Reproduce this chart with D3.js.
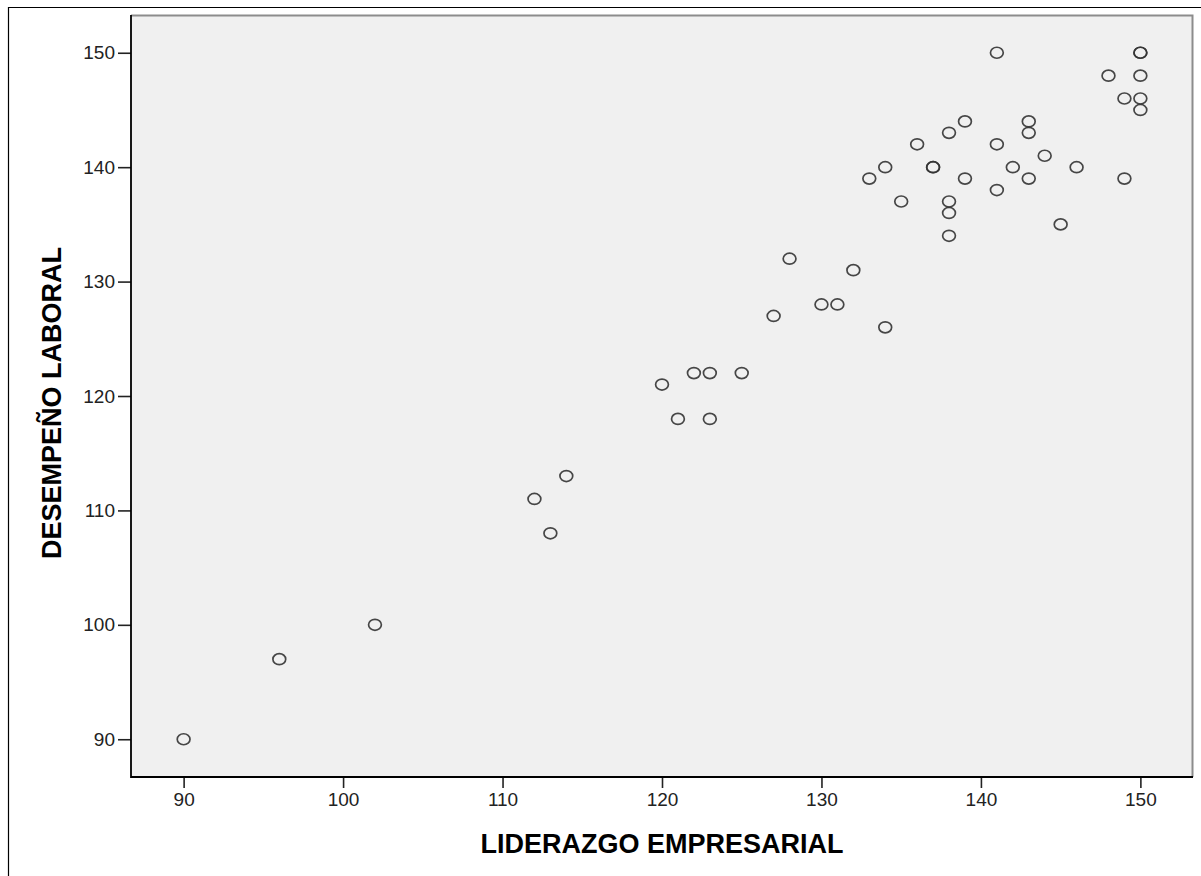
<!DOCTYPE html>
<html>
<head>
<meta charset="utf-8">
<script src="https://cdn.jsdelivr.net/npm/d3@7"></script>
<style>
  body { margin: 0; background: #fff; }
  svg { display: block; }
</style>
</head>
<body>
<div id="chart"></div>
<script>
// LIDERAZGO EMPRESARIAL (x) and DESEMPEÑO LABORAL (y), one entry per case
const liderazgo = [90, 96, 102, 112, 113, 114, 120, 121, 122, 123, 123, 125, 127, 128, 130, 131, 132, 134,
    133, 134, 135, 136, 137, 137, 138, 138, 138, 138, 139, 139, 141, 141, 141, 142, 143, 143, 143, 144,
    145, 146, 148, 149, 149, 150, 150, 150, 150, 150];
const desempeno = [90, 97, 100, 111, 108, 113, 121, 118, 122, 122, 118, 122, 127, 132, 128, 128, 131, 126,
    139, 140, 137, 142, 140, 140, 143, 137, 136, 134, 144, 139, 150, 142, 138, 140, 144, 143, 139, 141,
    135, 140, 148, 146, 139, 150, 150, 148, 146, 145];
const tickValues = [90, 100, 110, 120, 130, 140, 150];
const xTitle = "LIDERAZGO EMPRESARIAL";
const yTitle = "DESEMPEÑO LABORAL";

const width = 1201;
const height = 876;
const marginTop = 15;
const marginRight = 8;
const marginBottom = 99;
const marginLeft = 131;

const data = liderazgo.map((d, i) => ({ x: d, y: desempeno[i] }));

const svg = d3.select("#chart")
    .append("svg")
    .attr("width", width)
    .attr("height", height)
    .attr("viewBox", [0, 0, width, height])
    .attr("style", "font-family: 'Liberation Sans', Arial, sans-serif;");

const x = d3.scaleLinear()
    .domain([86.7, 153.3])
    .range([marginLeft, width - marginRight]);

const y = d3.scaleLinear()
    .domain([86.7, 153.3])
    .range([height - marginBottom, marginTop]);

// page frame
svg.append("path")
    .attr("d", `M8.5,${height}V7.5H${width}`)
    .attr("fill", "none")
    .attr("stroke", "#000")
    .attr("stroke-width", 1.2);

// plot background
svg.append("rect")
    .attr("x", marginLeft)
    .attr("y", marginTop)
    .attr("width", width - marginLeft - marginRight)
    .attr("height", height - marginTop - marginBottom)
    .attr("fill", "#f0f0f0");

// top and right edge (grey)
svg.append("path")
    .attr("d", `M${marginLeft},${marginTop + 0.5}H${width - marginRight - 0.5}V${height - marginBottom}`)
    .attr("fill", "none")
    .attr("stroke", "#8c8c8c")
    .attr("stroke-width", 2);

// points
svg.append("g")
    .selectAll()
    .data(data)
    .join("ellipse")
    .attr("cx", d => x(d.x))
    .attr("cy", d => y(d.y))
    .attr("rx", 6.4)
    .attr("ry", 5.5)
    .attr("fill", "none")
    .attr("stroke", "#333")
    .attr("stroke-width", 1.7)
    .attr("stroke-opacity", 0.9);

const styleTicks = g => {
    g.select(".domain").remove();
    g.selectAll(".tick line").attr("stroke", "#222").attr("stroke-width", 1.6);
    g.selectAll(".tick text")
        .attr("font-size", 19)
        .attr("fill", "#222")
        .attr("font-family", "'Liberation Sans', Arial, sans-serif");
};

// axes
svg.append("g")
    .attr("transform", `translate(0,${height - marginBottom})`)
    .call(d3.axisBottom(x).tickValues(tickValues).tickSize(11).tickPadding(5))
    .call(styleTicks);

svg.append("g")
    .attr("transform", `translate(${marginLeft},0)`)
    .call(d3.axisLeft(y).tickValues(tickValues).tickSize(13).tickPadding(3))
    .call(styleTicks);

// left and bottom edge (black)
svg.append("path")
    .attr("d", `M${marginLeft},${marginTop}V${height - marginBottom}H${width - marginRight}`)
    .attr("fill", "none")
    .attr("stroke", "#000")
    .attr("stroke-width", 1.8);

// titles
svg.append("text")
    .attr("x", (marginLeft + width - marginRight) / 2)
    .attr("y", 853)
    .attr("text-anchor", "middle")
    .attr("font-size", 27)
    .attr("font-weight", "bold")
    .text(xTitle);

svg.append("text")
    .attr("transform", `translate(61,403) rotate(-90)`)
    .attr("text-anchor", "middle")
    .attr("font-size", 27)
    .attr("font-weight", "bold")
    .text(yTitle);
</script>
</body>
</html>
